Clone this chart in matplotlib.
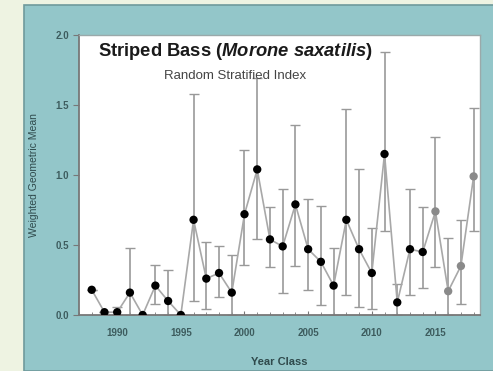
import numpy as np
import matplotlib.pyplot as plt
from matplotlib.patches import Rectangle
from matplotlib.ticker import MultipleLocator

years = list(range(1988, 2019))
gm = [0.18, 0.02, 0.02, 0.16, 0.0, 0.21, 0.10, 0.0, 0.68, 0.26, 0.30, 0.16,
      0.72, 1.04, 0.54, 0.49, 0.79, 0.47, 0.38, 0.21, 0.68, 0.47, 0.30, 1.15,
      0.09, 0.47, 0.45, 0.74, 0.17, 0.35, 0.99]
upper = [0.18, 0.02, 0.06, 0.48, 0.0, 0.36, 0.32, 0.0, 1.58, 0.52, 0.49, 0.43,
         1.18, 1.69, 0.77, 0.90, 1.36, 0.83, 0.78, 0.48, 1.47, 1.04, 0.62, 1.88,
         0.22, 0.90, 0.77, 1.27, 0.55, 0.68, 1.48]
lower = [0.18, 0.02, 0.0, 0.0, 0.0, 0.08, 0.0, 0.0, 0.10, 0.04, 0.13, 0.0,
         0.36, 0.54, 0.34, 0.16, 0.35, 0.18, 0.07, 0.0, 0.14, 0.06, 0.04, 0.60,
         0.0, 0.14, 0.19, 0.34, 0.0, 0.08, 0.60]

plt.rcParams['mathtext.fontset'] = 'custom'
plt.rcParams['mathtext.bfit'] = 'Liberation Sans:bold:italic'
plt.rcParams['mathtext.bf'] = 'Liberation Sans:bold'
plt.rcParams['mathtext.it'] = 'Liberation Sans:italic'
plt.rcParams['mathtext.rm'] = 'Liberation Sans'

W, H = 493, 371
fig = plt.figure(figsize=(W / 100, H / 100), dpi=100)
fig.patch.set_facecolor('#eef3e2')
# teal panel behind the chart
fig.patches.append(Rectangle((24 / W, 0), 1, 1 - 5 / H, transform=fig.transFigure,
                             facecolor='#93c6c9', edgecolor='#6f9a9c', lw=1.2, zorder=-10))

ax = fig.add_axes([79 / W, 1 - 315 / H, 401 / W, 280 / H])
ax.set_facecolor('white')

err = [np.array(gm) - np.array(lower), np.array(upper) - np.array(gm)]
ax.errorbar(years, gm, yerr=err, fmt='none', ecolor='#999999', elinewidth=1.2,
            capsize=3.5, capthick=1.0, zorder=2)
ax.plot(years, gm, color='#a8a8a8', lw=1.2, zorder=3)
cols = ['black' if y < 2015 else '#8a8a8a' for y in years]
ax.scatter(years, gm, s=36, c=cols, linewidths=0, zorder=4)

ax.set_xlim(1987.0, 2018.5)
ax.set_ylim(0, 2.0)
ax.xaxis.set_major_locator(MultipleLocator(5))
ax.xaxis.set_minor_locator(MultipleLocator(1))
ax.yaxis.set_major_locator(MultipleLocator(0.5))
ax.yaxis.set_major_formatter(plt.FuncFormatter(lambda v, p: f'{v:.1f}'))

tick_col = '#3d5c5e'
ax.tick_params(axis='x', which='major', direction='in', length=3, color='#777777',
               labelsize=7, labelcolor=tick_col, pad=9)
ax.tick_params(axis='x', which='minor', direction='in', length=2, color='#777777')
ax.tick_params(axis='y', direction='out', length=4, color='#777777',
               labelsize=7, labelcolor=tick_col, pad=3)
for lab in ax.get_xticklabels() + ax.get_yticklabels():
    lab.set_fontweight('bold')
    lab.set_family('Liberation Sans')

for s in ['left', 'bottom']:
    ax.spines[s].set_color('#777777')
    ax.spines[s].set_linewidth(1.3)
for s in ['top', 'right']:
    ax.spines[s].set_color('#9aa9aa')
    ax.spines[s].set_linewidth(1.0)

ax.set_xlabel('Year Class', fontsize=8, fontweight='bold', color='#2f4a4c',
              family='Liberation Sans', labelpad=14)
ax.set_ylabel('Weighted Geometric Mean', fontsize=7.5, color='#2f4a4c',
              family='Liberation Sans', labelpad=12)

ax.text(0.39, 0.94, r'Striped Bass ($\mathbfit{Morone\ saxatilis}$)', transform=ax.transAxes,
        ha='center', va='center', fontsize=13.2, fontweight='bold', color='#1a1a1a',
        family='Liberation Sans')
ax.text(0.39, 0.855, 'Random Stratified Index', transform=ax.transAxes,
        ha='center', va='center', fontsize=9.5, color='#444444', family='Liberation Sans')

fig.savefig('out.png', dpi=100, facecolor=fig.get_facecolor())
